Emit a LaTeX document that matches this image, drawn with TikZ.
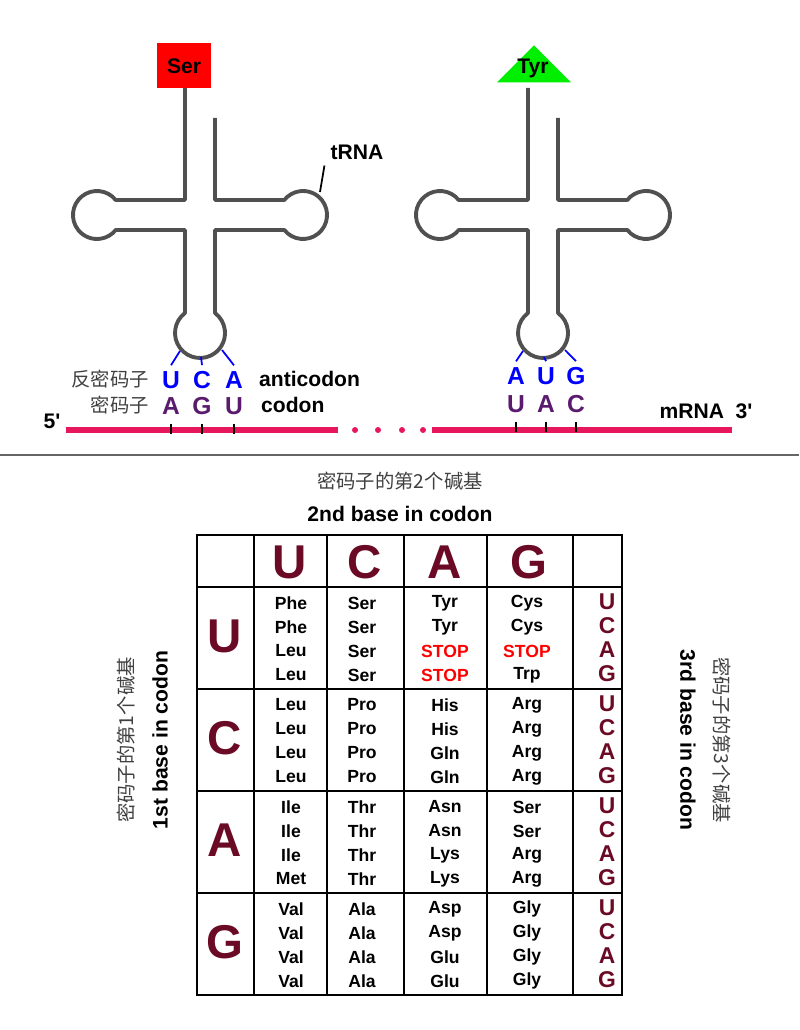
\documentclass[tikz,border=0pt]{standalone}
\usepackage{fontspec}
\setmainfont{Liberation Sans}
\newfontfamily\cjk{Noto Sans CJK SC}
\usetikzlibrary{positioning, shapes.geometric}
\definecolor{stemgray}{HTML}{505050}
\definecolor{mrnapink}{HTML}{E8175D}
\definecolor{codonpurple}{HTML}{5A1A6E}
\definecolor{basered}{HTML}{6A0A25}
\definecolor{stopred}{HTML}{FF0000}
\definecolor{tyrgreen}{HTML}{00EE00}

\begin{document}
\begin{tikzpicture}[
    x=0.02cm, y=-0.02cm,
    stem/.style={draw=stemgray, line width=2.2pt, line join=round},
    anti/.style={text=blue, font=\bfseries\fontsize{14}{14}\selectfont},
    codon/.style={text=codonpurple, font=\bfseries\fontsize{14}{14}\selectfont},
    label/.style={font=\bfseries\fontsize{12}{12}\selectfont},
    cjklabel/.style={font=\cjk\fontsize{11}{11}\selectfont, text=black!75},
    amino/.style={font=\bfseries\fontsize{10}{10}\selectfont},
    bigbase/.style={text=basered, font=\bfseries\fontsize{27}{27}\selectfont},
    thirdbase/.style={text=basered, font=\bfseries\fontsize{13}{13}\selectfont}
]
\useasboundingbox (0,0) rectangle (799,1030);

% tRNA molecules
\foreach \dx in {0,343} {
  \begin{scope}[shift={(\dx,0)}]
    \draw[stem] (185,88) -- (185,200) -- (115.7,200)
      arc[start angle=-38.7, end angle=-321.3, radius=24]
      -- (185,230) -- (185,313)
      arc[start angle=233.1, end angle=-53.1, radius=25]
      -- (215,230) -- (284.3,230)
      arc[start angle=141.3, end angle=-141.3, radius=24]
      -- (215,200) -- (215,118);
  \end{scope}
}
\node[fill=stopred, minimum width=54*0.02cm, minimum height=45*0.02cm, inner sep=0pt,
      font=\bfseries\fontsize{12}{12}\selectfont] (ser) at (184,66) {Ser};
\node[isosceles triangle, shape border rotate=90, isosceles triangle apex angle=90,
      fill=tyrgreen, minimum height=30*0.02cm, minimum width=74*0.02cm, inner sep=0pt] (tyr) at (534,67) {};
\node[font=\bfseries\fontsize{12}{12}\selectfont] (tyrtext) at (533,68) {Tyr};
\node[label] (trna) at (357,152) {tRNA};
\coordinate (trnatip) at (320,192);
\draw[black, line width=1pt] (trnatip) -- (trna.south west);

% anticodons and codons
\node[anti] (a1) at (171,380) {U};
\node[anti] (a2) at (202,380) {C};
\node[anti] (a3) at (234,380) {A};
\node[codon] (c1) at (171,406) {A};
\node[codon] (c2) at (202,406) {G};
\node[codon] (c3) at (234,406) {U};
\node[anti] (b1) at (516,376) {A};
\node[anti] (b2) at (546,376) {U};
\node[anti] (b3) at (576,376) {G};
\node[codon] (d1) at (516,404) {U};
\node[codon] (d2) at (546,404) {A};
\node[codon] (d3) at (576,404) {C};
\foreach \s in {0,343} {
  \coordinate (p1\s) at (180+\s,351);
  \coordinate (p2\s) at (201+\s,357);
  \coordinate (p3\s) at (222+\s,350);
}
\draw[blue, line width=1pt] (p10) -- (a1.north) (p20) -- (a2.north) (p30) -- (a3.north);
\draw[blue, line width=1pt] (p1343) -- (b1.north) (p2343) -- (b2.north) (p3343) -- (b3.north);
\node[cjklabel, anchor=east] (fmmz) at (155,379) {反密码子};
\node[cjklabel, anchor=east] (mmz) at (155,405) {密码子};
\node[label, anchor=west] (anticodon) at (253,379) {anticodon};
\node[label, anchor=west] (codontext) at (255,405) {codon};
\node[label] (five) at (52,421) {5\textquotesingle};
\node[label] (three) at (706,411) {mRNA\ \ 3\textquotesingle};

% mRNA strand
\coordinate (m1) at (66,430);
\coordinate (m2) at (338,430);
\coordinate (m3) at (432,430);
\coordinate (m4) at (732,430);
\draw[mrnapink, line width=3pt] (m1) -- (m2) (m3) -- (m4);
\foreach \x in {355,378,402,423} \fill[mrnapink] (\x,430) circle[radius=3];
\foreach \n in {c1,c2,c3,d1,d2,d3} \draw[black, line width=0.6pt] (\n.south) ++(0,3) -- ++(0,10);

% separator
\draw[black!60, line width=1pt] (0,455) -- (799,455);

% titles
\node[cjklabel] (t2cn) at (400,481) {密码子的第2个碱基};
\node[label] (t2en) at (400,514) {2nd base in codon};
\node[cjklabel, rotate=90] (t1cn) at (126,740) {密码子的第1个碱基};
\node[label, rotate=90] (t1en) at (160,740) {1st base in codon};
\node[label, rotate=-90] (t3en) at (688,740) {3rd base in codon};
\node[cjklabel, rotate=-90] (t3cn) at (722,740) {密码子的第3个碱基};

% codon table
\draw[black, line width=1.2pt] (197,535) rectangle (622,995);
\foreach \x in {254,327,404,487,573} \draw[black, line width=1.2pt] (\x,535) -- (\x,995);
\foreach \y in {587,689,791,893} \draw[black, line width=1.2pt] (197,\y) -- (622,\y);
\node[bigbase] (hU) at (290,562) {U};
\node[bigbase] (hC) at (365,562) {C};
\node[bigbase] (hA) at (445,562) {A};
\node[bigbase] (hG) at (529,562) {G};
\foreach \b [count=\i from 0] in {U,C,A,G} {
  \node[bigbase] (r\b) at (225,636+\i*102) {\b};
  \foreach \t [count=\j from 0] in {U,C,A,G}
    \node[thirdbase] (s\b\t) at (607,602+\i*102+\j*24) {\t};
}
\foreach \y/\p/\q/\s/\t [count=\k] in {
  603/Phe/Ser/Tyr/Cys, 627/Phe/Ser/Tyr/Cys,
  651/Leu/Ser/\textcolor{stopred}{STOP}/\textcolor{stopred}{STOP},
  675/Leu/Ser/\textcolor{stopred}{STOP}/Trp,
  705/Leu/Pro/His/Arg, 729/Leu/Pro/His/Arg, 753/Leu/Pro/Gln/Arg, 777/Leu/Pro/Gln/Arg,
  807/Ile/Thr/Asn/Ser, 831/Ile/Thr/Asn/Ser, 855/Ile/Thr/Lys/Arg, 879/Met/Thr/Lys/Arg,
  909/Val/Ala/Asp/Gly, 933/Val/Ala/Asp/Gly, 957/Val/Ala/Glu/Gly, 981/Val/Ala/Glu/Gly} {
  \node[amino] (aa1\k) at (291,\y) {\p};
  \node[amino] (aa2\k) at (362,\y) {\q};
  \node[amino] (aa3\k) at (445,\y) {\s};
  \node[amino] (aa4\k) at (527,\y) {\t};
}
\end{tikzpicture}
\end{document}
